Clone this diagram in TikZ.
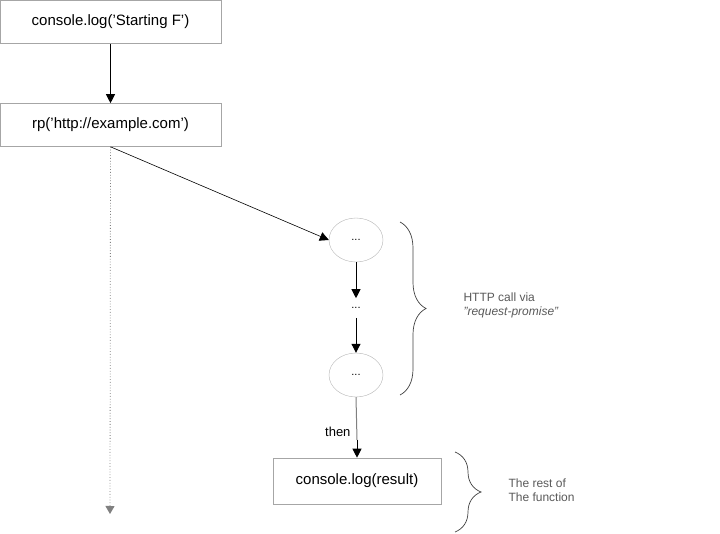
\documentclass[tikz,border=0pt]{standalone}
\usepackage{fontspec}
\setmainfont{Liberation Sans}
\usetikzlibrary{arrows.meta,decorations.pathreplacing,shapes.geometric}
\begin{document}
\begin{tikzpicture}[x=1pt,y=-1pt,
  box/.style={draw=gray!70,line width=0.6pt,minimum height=43pt,font=\fontsize{15}{17}\selectfont,inner sep=0pt},
  ell/.style={draw=gray!60,ellipse,minimum width=54pt,minimum height=44pt,inner sep=0pt,font=\fontsize{11}{12}\selectfont},
  arr/.style={-{Triangle[length=9pt,width=9pt]},line width=1pt},
  brc/.style={decorate,decoration={brace,amplitude=26pt},draw=gray!50!black,line width=0.7pt},
  lbl/.style={text=gray!70!black,font=\fontsize{12}{14}\selectfont,align=left,anchor=west}]
\useasboundingbox (0,0) rectangle (720,534);
\node[box,minimum width=221pt] (a) at (110.5,22) {console.log('Starting F')};
\node[box,minimum width=221pt] (b) at (110.5,125) {rp('http://example.com')};
\node[ell] (e1) at (356,240) {...};
\node[font=\fontsize{11}{12}\selectfont,inner sep=9pt] (d) at (356,308) {...};
\node[ell] (e2) at (356,375) {...};
\node[box,minimum width=168pt,minimum height=46pt] (c) at (357,481) {console.log(result)};
\coordinate (end) at (110,514);
\draw[arr] (a) -- (b);
\draw[-{Triangle[length=9pt,width=9pt]},line width=0.6pt] (b.south) -- (e1.west);
\draw[arr] (e1) -- (d);
\draw[arr] (d) -- (e2);
\draw[gray,line width=1pt] (e2.south) -- (357,440);
\draw[arr] (357,440) -- (c.north);
\node[anchor=east,font=\fontsize{13}{15}\selectfont] (t) at (354,432) {then};
\draw[gray,dotted,line width=0.8pt,-{Triangle[length=8pt,width=9pt]}] (b.south) -- (end);
\draw[brc] (400,222) -- (400,395) coordinate (b1e);
\node[lbl] (h) at (460,305) {HTTP call via\\\textit{"request-promise"}};
\draw[brc] (455,452) -- (455,532);
\node[lbl] (r) at (505,490) {The rest of\\The function};
\end{tikzpicture}
\end{document}
